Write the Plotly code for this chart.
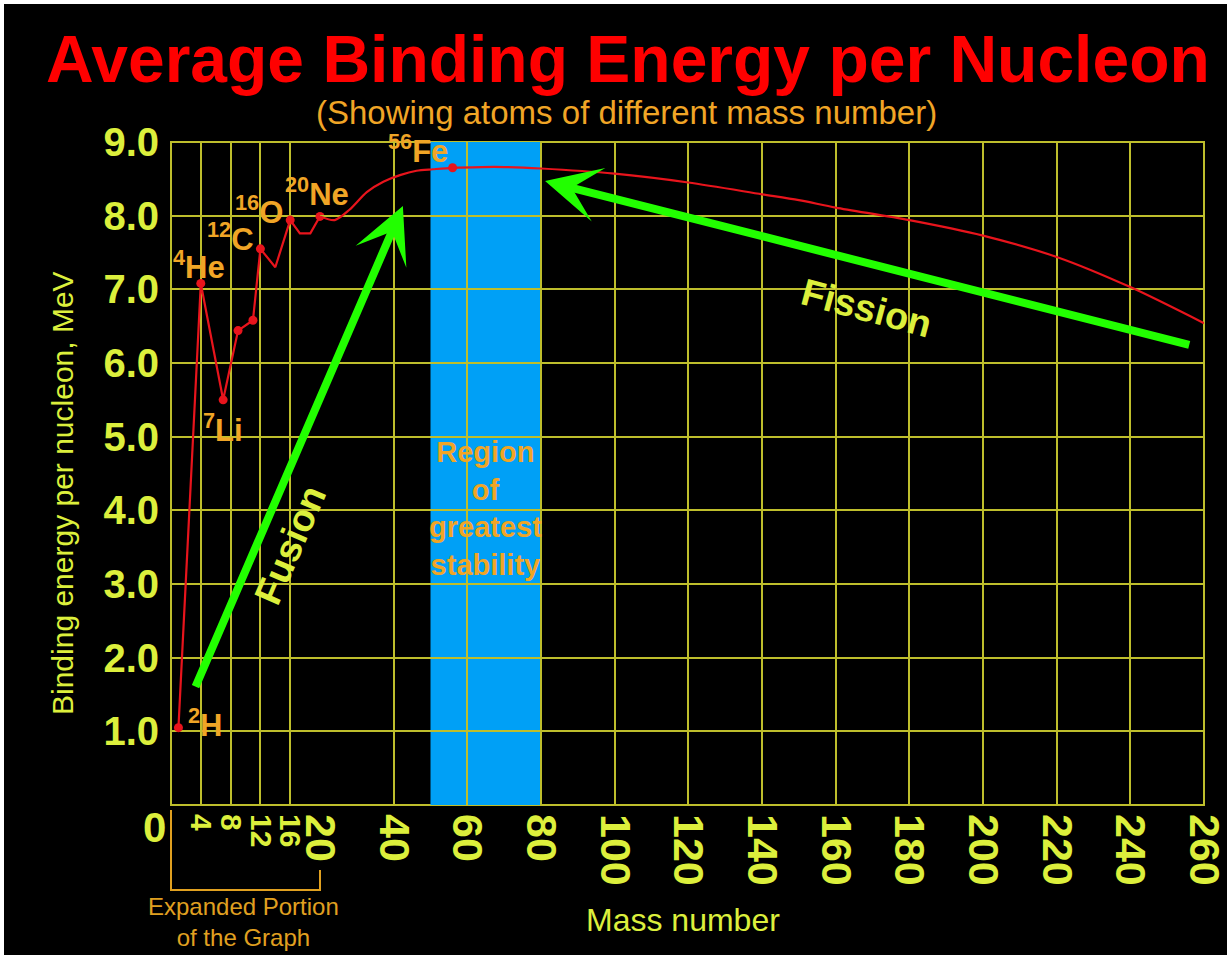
import plotly.graph_objects as go

# ---------------- data ----------------
# expanded portion of the graph (mass number 0-20)
mass_low = [1, 4, 7, 9, 11, 12, 14, 16, 17.3, 18.7, 20]
be_low = [1.05, 7.08, 5.5, 6.44, 6.58, 7.55, 7.30, 7.94, 7.76, 7.76, 7.99]
# main portion (mass number 20-260)
mass_high = [20, 24, 28, 32.7, 37.2, 41.7, 46.2, 50.7, 56, 64, 70, 80, 100, 120,
             140, 150, 160, 180, 200, 220, 240, 260]
be_high = [7.99, 7.94, 8.08, 8.32, 8.46, 8.55, 8.61, 8.63, 8.65, 8.66, 8.66, 8.64,
           8.57, 8.45, 8.29, 8.21, 8.11, 7.94, 7.73, 7.44, 7.03, 6.54]

# marked points
dot_mass_low = [1, 4, 7, 9, 11, 12, 16, 20]
dot_be_low = [1.05, 7.08, 5.5, 6.44, 6.58, 7.55, 7.94, 7.99]
dot_mass_high = [56]
dot_be_high = [8.65]

# labelled nuclides
nuc_text = ["<sup>2</sup>H", "<sup>4</sup>He", "<sup>7</sup>Li", "<sup>12</sup>C",
            "<sup>16</sup>O", "<sup>20</sup>Ne", "<sup>56</sup>Fe"]
nuc_mass = [1, 4, 7, 12, 16, 20, 56]
nuc_be = [1.05, 7.08, 5.5, 7.55, 7.94, 7.99, 8.65]

x_ticks_low = [4, 8, 12, 16]
x_ticks_high = [20, 40, 60, 80, 100, 120, 140, 160, 180, 200, 220, 240, 260]
y_ticks = [1, 2, 3, 4, 5, 6, 7, 8, 9]
y_tick_text = ["1.0", "2.0", "3.0", "4.0", "5.0", "6.0", "7.0", "8.0", "9.0"]

stability_band = [50, 80]

# ---------------- styling ----------------
W, H = 1227, 955
ML, MR, MT, MB = 171, 23, 142, 150
PW, PH = W - ML - MR, H - MT - MB
D1 = 149 / PW  # split between expanded (0-20) and main (20-260) axes

FONT = "Liberation Sans, Arial, sans-serif"
YEL = "#DCEF3C"
GRID = "#BEBE2C"
ORANGE = "#F0A526"
RED_LINE = "#E8141C"
GREEN = "#22FF00"
BLUE = "#00A0F6"


def px_x(px):
    return (px - ML) / PW


def px_y(py):
    return (H - MB - py) / PH


fig = go.Figure()

fig.add_trace(go.Scatter(x=mass_low, y=be_low, xaxis="x", yaxis="y", mode="lines",
                         line=dict(color=RED_LINE, width=2.2), cliponaxis=False,
                         hoverinfo="skip", showlegend=False))
fig.add_trace(go.Scatter(x=mass_high, y=be_high, xaxis="x2", yaxis="y", mode="lines",
                         line=dict(color=RED_LINE, width=2.2, shape="spline", smoothing=0.8),
                         cliponaxis=False, hoverinfo="skip", showlegend=False))
fig.add_trace(go.Scatter(x=dot_mass_low, y=dot_be_low, xaxis="x", yaxis="y", mode="markers",
                         marker=dict(color=RED_LINE, size=9), cliponaxis=False,
                         showlegend=False))
fig.add_trace(go.Scatter(x=dot_mass_high, y=dot_be_high, xaxis="x2", yaxis="y", mode="markers",
                         marker=dict(color=RED_LINE, size=9), cliponaxis=False,
                         showlegend=False))

shapes = [
    # black card with thin white border at top/left
    dict(type="rect", xref="paper", yref="paper", x0=px_x(4), x1=px_x(W + 5),
         y0=px_y(H + 5), y1=px_y(4), fillcolor="black", line=dict(width=0), layer="below"),
    # region of greatest stability
    dict(type="rect", xref="x2", yref="y", x0=stability_band[0], x1=stability_band[1],
         y0=0, y1=9, fillcolor=BLUE, line=dict(width=0), layer="below"),
    # plot frame
    dict(type="rect", xref="paper", yref="paper", x0=0, x1=1, y0=0, y1=1,
         line=dict(color=GRID, width=2), layer="below"),
    # bracket of expanded portion
    dict(type="path", xref="paper", yref="paper",
         path=f"M 0,{px_y(810)} L 0,{px_y(890)} L {D1},{px_y(890)} L {D1},{px_y(870)}",
         line=dict(color="#E0A020", width=2)),
]

# nuclide label pixel offsets from their points
label_shift = [(27, 5), (-2, 18), (0, -28), (-30, 12), (-31, 10), (-3, 24), (-35, 19)]

annotations = []
for t, m, e, (dx, dy) in zip(nuc_text, nuc_mass, nuc_be, label_shift):
    annotations.append(dict(text=t, x=m, y=e, xref="x" if m <= 20 else "x2", yref="y",
                            showarrow=False, xshift=dx, yshift=dy,
                            font=dict(family=FONT, size=31, color=ORANGE, weight="bold")))

annotations += [
    dict(text="Average Binding Energy per Nucleon", xref="paper", yref="paper",
         x=px_x(628), y=px_y(59), showarrow=False, xanchor="center", yanchor="middle",
         font=dict(family=FONT, size=66, color="#FF0000", weight="bold")),
    dict(text="(Showing atoms of different mass number)", xref="paper", yref="paper",
         x=px_x(626), y=px_y(113), showarrow=False, xanchor="center", yanchor="middle",
         font=dict(family=FONT, size=33, color=ORANGE)),
    dict(text="Binding energy per nucleon, MeV", xref="paper", yref="paper",
         x=px_x(62), y=px_y(493), showarrow=False, textangle=-90,
         xanchor="center", yanchor="middle",
         font=dict(family=FONT, size=30, color=YEL)),
    dict(text="Mass number", xref="paper", yref="paper", x=px_x(683), y=px_y(920),
         showarrow=False, xanchor="center", yanchor="middle",
         font=dict(family=FONT, size=32, color=YEL)),
    dict(text="0", xref="paper", yref="paper", x=px_x(154), y=px_y(827),
         showarrow=False, xanchor="center", yanchor="middle",
         font=dict(family=FONT, size=42, color=YEL, weight="bold")),
    dict(text="Expanded Portion<br>of the Graph", xref="paper", yref="paper",
         x=px_x(243), y=px_y(922), showarrow=False, xanchor="center", yanchor="middle",
         font=dict(family=FONT, size=24, color="#E0A020")),
    dict(text="Region<br>of<br>greatest<br>stability", xref="x2", yref="y",
         x=sum(stability_band) / 2, y=4.03, showarrow=False, xanchor="center",
         yanchor="middle", font=dict(family=FONT, size=29, color=ORANGE, weight="bold")),
    # fusion arrow
    dict(text="", xref="x2", yref="y", x=42.5, y=8.13, ax=-208, ay=482,
         showarrow=True, arrowhead=3, arrowsize=1.15, arrowwidth=8, arrowcolor=GREEN,
         standoff=0),
    dict(text="Fusion", xref="x", yref="y", x=16.0, y=3.53, showarrow=False,
         textangle=-66.7, xanchor="center", yanchor="middle",
         font=dict(family=FONT, size=38, color=YEL, weight="bold")),
    # fission arrow
    dict(text="", xref="x2", yref="y", x=81.1, y=8.47, axref="x2", ayref="y",
         ax=256.4, ay=6.24, showarrow=True, arrowhead=3, arrowsize=1.15, arrowwidth=8,
         arrowcolor=GREEN, standoff=0),
    dict(text="Fission", xref="x2", yref="y", x=168.3, y=6.74, showarrow=False,
         textangle=15, xanchor="center", yanchor="middle",
         font=dict(family=FONT, size=38, color=YEL, weight="bold")),
]

axis_common = dict(showgrid=True, gridcolor=GRID, gridwidth=2, zeroline=False,
                   showline=False, ticks="", tickangle=90, tickmode="array",
                   ticklabelstandoff=8, ticklabeloverflow="allow", automargin=False)

fig.update_layout(
    width=W, height=H, autosize=False,
    margin=dict(l=ML, r=MR, t=MT, b=MB, pad=0, autoexpand=False),
    paper_bgcolor="white",
    plot_bgcolor="rgba(0,0,0,0)",
    showlegend=False,
    xaxis=dict(domain=[0, D1], range=[0, 20], anchor="y", tickvals=x_ticks_low,
               tickfont=dict(family=FONT, size=30, color=YEL, weight="bold"), **axis_common),
    xaxis2=dict(domain=[D1, 1], range=[20, 260], anchor="y", tickvals=x_ticks_high,
                tickfont=dict(family=FONT, size=43, color=YEL, weight="bold"), **axis_common),
    yaxis=dict(domain=[0, 1], range=[0, 9], anchor="x", tickmode="array",
               tickvals=y_ticks, ticktext=y_tick_text, showgrid=True, gridcolor=GRID,
               gridwidth=2, zeroline=False, showline=False, ticks="",
               ticklabelstandoff=11, ticklabeloverflow="allow", automargin=False,
               tickfont=dict(family=FONT, size=40, color=YEL, weight="bold")),
    shapes=shapes,
    annotations=annotations,
)

fig.write_html("out.html", config={"displayModeBar": False, "responsive": False},
               post_script="document.body.style.margin='0';"
                           "document.body.style.overflow='hidden';")
